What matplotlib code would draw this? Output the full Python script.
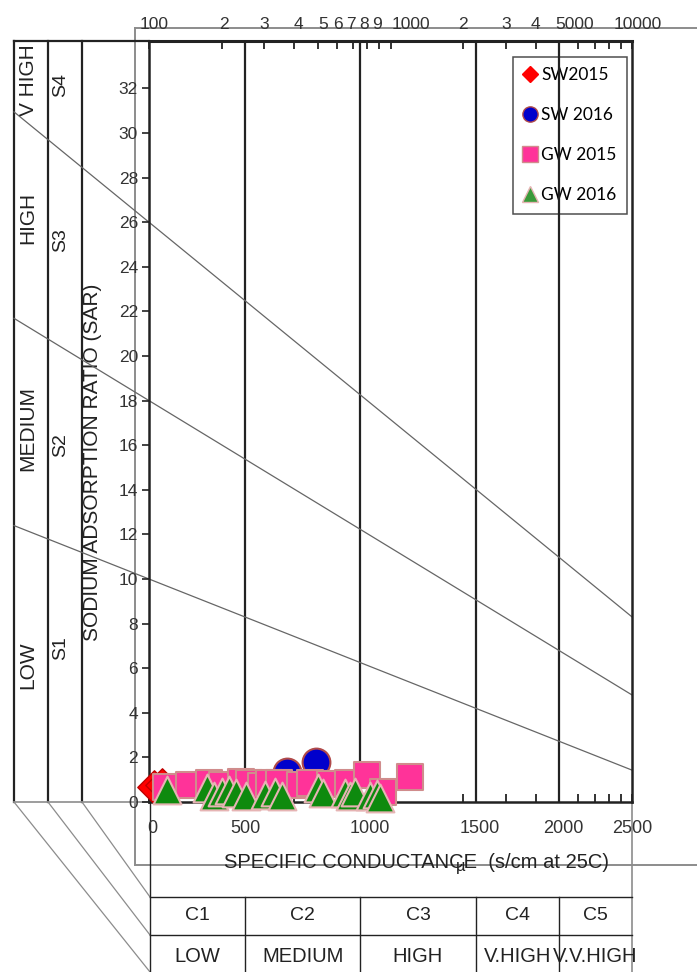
import numpy as np
import matplotlib
matplotlib.use('Agg')
import matplotlib.pyplot as plt
import matplotlib.transforms as mtrans
from matplotlib.lines import Line2D

# ---------------- data ----------------
sw2015_ec = [105, 113]
sw2015_sar = [0.67, 0.75]

sw2016_ec = [371, 490]
sw2016_sar = [1.35, 1.80]

gw2015_ec = [118, 147, 178, 201, 240, 260, 290, 315, 347, 420, 463, 560, 665, 798, 931, 1205]
gw2015_sar = [0.67, 0.76, 0.85, 0.76, 0.90, 0.85, 0.70, 0.85, 0.85, 0.75, 0.85, 0.80, 0.85, 1.21, 0.45, 1.12]

gw2016_ec = [119, 174, 186, 201, 215, 230, 253, 301, 331, 357, 499, 524, 645, 678, 710, 821, 878, 904]
gw2016_sar = [0.54, 0.63, 0.27, 0.45, 0.54, 0.40, 0.27, 0.31, 0.45, 0.27, 0.63, 0.40, 0.40, 0.27, 0.45, 0.27, 0.35, 0.18]

series_names = ['SW2015', 'SW 2016', 'GW 2015', 'GW 2016']

# salinity class boundaries (EC) and sodium hazard boundary lines (SAR at EC=100 and EC=10000)
ec_class_bounds = [250, 750, 2250, 5000]
sar_at_100 = [10.0, 18.0, 26.0]
sar_at_10000 = [1.43, 4.8, 8.3]

top_tick_vals = [100, 200, 300, 400, 500, 600, 700, 800, 900,
                 1000, 2000, 3000, 4000, 5000, 6000, 7000, 8000, 9000, 10000]
top_tick_labels = ['100', '2', '3', '4', '5', '6', '7', '8', '9',
                   '1000', '2', '3', '4', '5000', '', '', '', '', '10000']
top_label_dx = [5, 2, 0, 4, 5, 1, -2, -3, -2, 20, 0, 0, 0, 15, 0, 0, 0, 0, 6]   # px shifts
bottom_tick_labels = ['0', '500', '1000', '1500', '2000', '2500']
bottom_label_pos = [103, 250, 820, 2350, 5200, 10000]
sar_ticks = list(range(0, 33, 2))

salinity_classes = ['C1', 'C2', 'C3', 'C4', 'C5']
salinity_names = ['LOW', 'MEDIUM', 'HIGH', 'V.HIGH', 'V.V.HIGH']
sodium_names = ['V HIGH', 'HIGH', 'MEDIUM', 'LOW']
sodium_classes = ['S4', 'S3', 'S2', 'S1']

# ---------------- figure ----------------
W, H = 697, 972
plt.rcParams['font.family'] = ['Liberation Sans', 'DejaVu Sans']
fig = plt.figure(figsize=(W / 100, H / 100), dpi=100)

deco = fig.add_axes([0, 0, 1, 1], zorder=0)
deco.set_xlim(0, W)
deco.set_ylim(H, 0)
deco.axis('off')

L, R, T, B = 149, 632, 41, 802
ax = fig.add_axes([L / W, (H - B) / H, (R - L) / W, (B - T) / H], zorder=2)
ax.patch.set_alpha(0)
ax.set_xscale('log')
ax.set_xlim(100, 10000)
ax.set_ylim(0, (B - T) / 22.3)

for s in ax.spines.values():
    s.set_color('#222222')
    s.set_linewidth(1.8)
ax.spines['top'].set_linewidth(2.2)

# x ticks: inward ticks top & bottom, labels drawn as text on top
ax.xaxis.set_minor_locator(matplotlib.ticker.NullLocator())
ax.set_xticks(top_tick_vals)
ax.set_xticklabels([''] * len(top_tick_vals))
ax.tick_params(axis='x', which='both', top=True, bottom=True, labeltop=False,
               labelbottom=False, direction='in', length=6, width=1.3,
               colors='#222222')
btrans = mtrans.blended_transform_factory(ax.transData, ax.transAxes)
for val, lab, dx in zip(top_tick_vals, top_tick_labels, top_label_dx):
    if not lab:
        continue
    tr = btrans + mtrans.ScaledTranslation(dx / 100, 0, fig.dpi_scale_trans)
    ax.text(val, (B - 24) / (B - T), lab, transform=tr, ha='center', va='center',
            fontsize=12.5, color='#333333')

ax.set_yticks(sar_ticks)
ax.tick_params(axis='y', direction='out', length=5, width=1.2, labelsize=12.5,
               pad=3, colors='#222222')
for lbl in ax.get_yticklabels():
    lbl.set_color('#333333')

# bottom labels
for pos, lab in zip(bottom_label_pos, bottom_tick_labels):
    ax.text(pos, -0.024, lab, transform=btrans, ha='center', va='top',
            fontsize=13, color='#333333')

# class boundary vertical lines
for ec in ec_class_bounds:
    ax.axvline(ec, color='#222222', lw=1.6, zorder=1)

# SAR hazard lines, extended to the left strip edge
inv = ax.transData.inverted()
x_left = inv.transform((14, H - 400))[0]
for s100, s10k in zip(sar_at_100, sar_at_10000):
    b = (s10k - s100) / 2.0
    xs = np.array([x_left, 10000])
    ys = s100 + b * (np.log10(xs) - 2)
    ax.plot(xs, ys, color='#666666', lw=0.9, clip_on=False, zorder=1)

# data
ax.scatter(sw2015_ec, sw2015_sar, marker='D', s=17 ** 2, color='#FF0000',
           edgecolors='#C00000', linewidths=1, zorder=3, clip_on=False)
ax.scatter(sw2016_ec, sw2016_sar, marker='o', s=20 ** 2, color='#0000CC',
           edgecolors='#B04A4A', linewidths=1.5, zorder=4, clip_on=False)
ax.scatter(gw2015_ec, gw2015_sar, marker='s', s=19 ** 2, color='#FF3399',
           edgecolors='#D08C8C', linewidths=1.5, zorder=5, clip_on=False)
ax.scatter(gw2016_ec, gw2016_sar, marker='^', s=20 ** 2, color='#0E8A0E',
           edgecolors='#E6B4B4', linewidths=1.5, zorder=6, clip_on=False)

# legend
handles = [
    Line2D([], [], ls='', marker='D', ms=8, color='#FF0000', mec='#FF0000'),
    Line2D([], [], ls='', marker='o', ms=11, color='#0000CC', mec='#B04A4A'),
    Line2D([], [], ls='', marker='s', ms=11, color='#FF3399', mec='#D08C8C'),
    Line2D([], [], ls='', marker='^', ms=11, color='#3A9A3A', mec='#E6B4B4'),
]
leg = ax.legend(handles, series_names, loc='upper right',
                bbox_to_anchor=((627 - L) / (R - L), (B - 57) / (B - T)),
                borderaxespad=0, frameon=True, fancybox=False,
                prop={'family': ['Lato', 'DejaVu Sans'], 'size': 12.5},
                labelspacing=1.38, handlelength=0.8, handletextpad=0.25,
                borderpad=0.6)
leg.get_frame().set_edgecolor('#222222')
leg.get_frame().set_facecolor('none')
leg.get_frame().set_linewidth(1.1)
leg.set_zorder(0.5)

# ---------------- decorations (pixel coordinates) ----------------
gray = '#8c8c8c'
k = '#222222'
# outer chart frame
deco.plot([135, W], [28, 28], color=gray, lw=1.4)
deco.plot([135, 135], [28, 865], color=gray, lw=1.4)
deco.plot([135, W], [865, 865], color=gray, lw=1.4)

# left strips
for x in [14, 48, 82]:
    deco.plot([x, x], [41, B], color=k, lw=1.6)
deco.plot([14, L], [41, 41], color=k, lw=1.6)
deco.plot([14, L], [B, B], color=gray, lw=1.2)
# diagonal connectors
deco.plot([14, 150], [B, 972], color=gray, lw=0.9)
deco.plot([48, 150], [B, 935], color=gray, lw=0.9)
deco.plot([82, 150], [B, 897], color=gray, lw=0.9)

name_y = [80, 218, 428, 665]
cls_y = [85, 240, 445, 648]
for nm, y in zip(sodium_names, name_y):
    deco.text(28, y, nm, rotation=90, ha='center', va='center', fontsize=15, color='#222222')
for nm, y in zip(sodium_classes, cls_y):
    deco.text(61, y, nm, rotation=90, ha='center', va='center', fontsize=14, color='#222222')
deco.text(93, 462, 'SODIUM ADSORPTION RATIO (SAR)', rotation=90, ha='center',
          va='center', fontsize=15, color='#222222')

# x-axis title
deco.text(416, 862, 'SPECIFIC CONDUCTANCE  (s/cm at 25C)', ha='center', va='center',
          fontsize=14.5, color='#222222')
deco.text(461, 866, 'µ', ha='center', va='center', fontsize=12, color='#222222')

# table
deco.plot([150, 150], [B, 972], color=k, lw=1.0)
deco.plot([R, R], [B, 972], color=gray, lw=1.2)
deco.plot([150, R], [897, 897], color=k, lw=1.0)
deco.plot([150, R], [935, 935], color=k, lw=1.0)
bx = [150] + [ax.transData.transform((ec, 0))[0] for ec in ec_class_bounds] + [R]
for x in bx[1:-1]:
    deco.plot([x, x], [897, 972], color=k, lw=1.0)
for i in range(5):
    cx = (bx[i] + bx[i + 1]) / 2
    deco.text(cx, 915, salinity_classes[i], ha='center', va='center', fontsize=14, color='#222222')
    deco.text(cx, 956, salinity_names[i], ha='center', va='center', fontsize=14.5, color='#222222')

fig.savefig('out.png', dpi=100)
